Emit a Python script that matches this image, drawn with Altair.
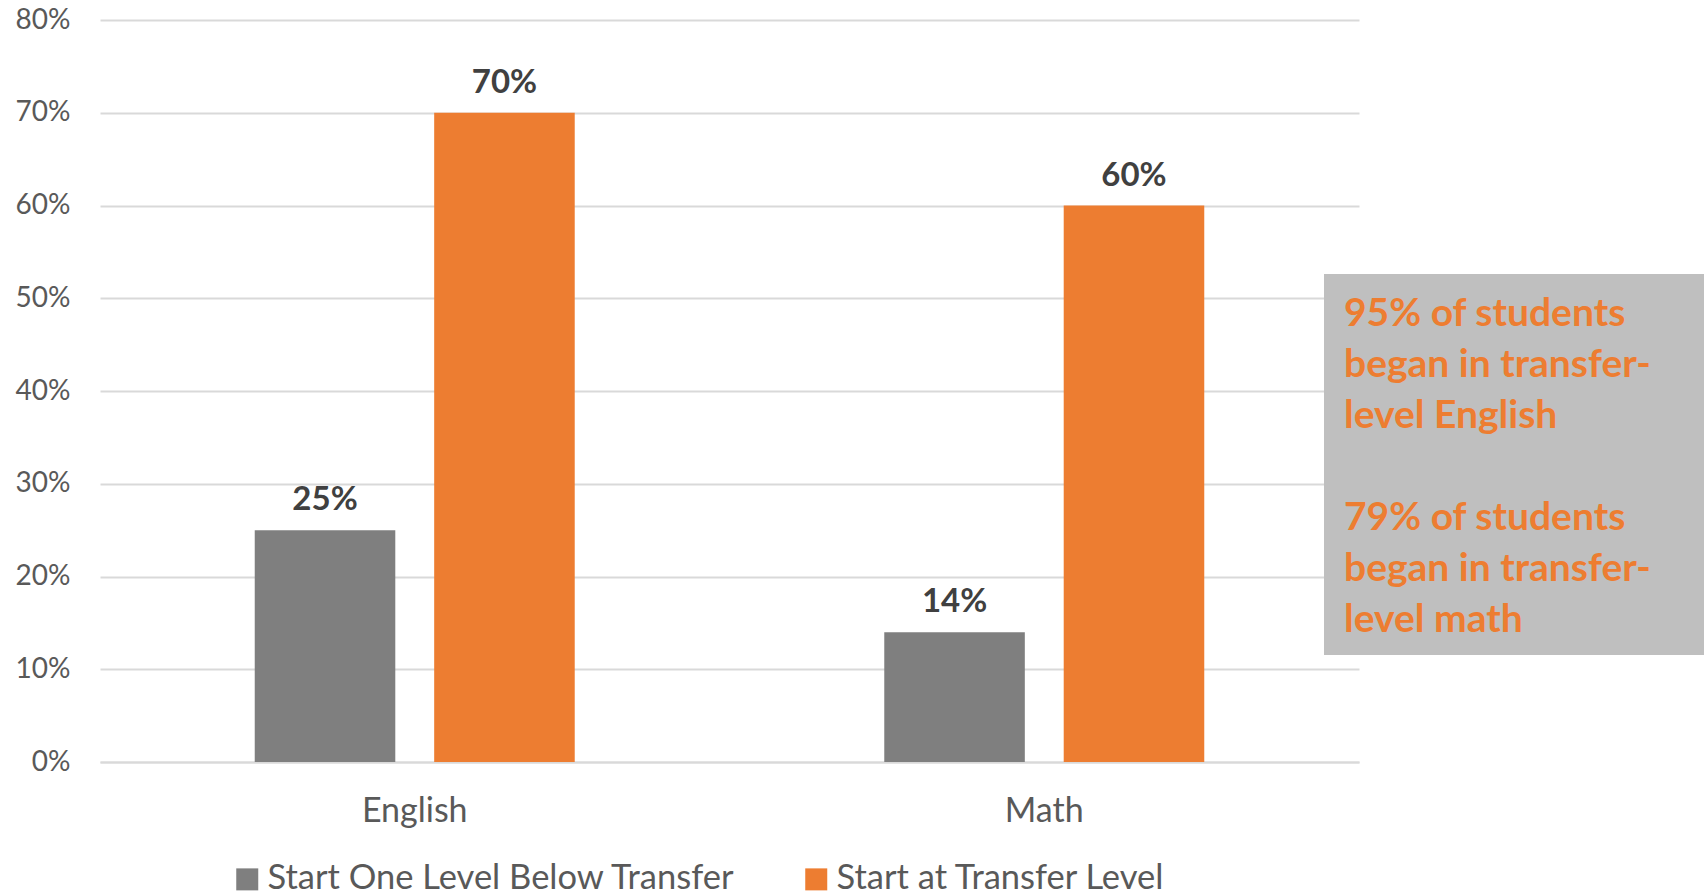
import altair as alt
import pandas as pd

subjects = ["English", "Math"]
series = ["Start One Level Below Transfer", "Start at Transfer Level"]
below_vals = [0.25, 0.14]
transfer_vals = [0.70, 0.60]
colors = ["#7F7F7F", "#ED7D31"]
note_english = ["95% of students", "began in transfer-", "level English"]
note_math = ["79% of students", "began in transfer-", "level math"]

rows = []
for i, s in enumerate(subjects):
    rows.append({"subject": s, "series": series[0], "value": below_vals[i]})
    rows.append({"subject": s, "series": series[1], "value": transfer_vals[i]})
df = pd.DataFrame(rows)

FONT = "Lato"

x_enc = alt.X("subject:N", sort=subjects, title=None,
              scale=alt.Scale(paddingInner=0.4917, paddingOuter=0.2458),
              axis=alt.Axis(labelAngle=0, labelFontSize=34, labelColor="#595959",
                            labelFont=FONT, ticks=False, domainColor="#D9D9D9",
                            domainWidth=2, labelPadding=32))
xoff = alt.XOffset("series:N", sort=series,
                   scale=alt.Scale(paddingInner=0.2167, paddingOuter=0))
y_enc = alt.Y("value:Q", title=None,
              scale=alt.Scale(domain=[0, 0.8], nice=False),
              axis=alt.Axis(format=".0%", values=[0, .1, .2, .3, .4, .5, .6, .7, .8],
                            labelFontSize=28, labelColor="#595959", labelFont=FONT,
                            ticks=False, domain=False, gridColor="#D9D9D9",
                            gridWidth=2, labelPadding=30))

bars = alt.Chart(df).mark_bar().encode(
    x=x_enc, xOffset=xoff, y=y_enc,
    color=alt.Color("series:N", sort=series,
                    scale=alt.Scale(domain=series, range=colors),
                    legend=alt.Legend(title=None, orient="none", legendX=130, legendY=842,
                                      direction="horizontal", symbolType="square",
                                      symbolSize=484, symbolStrokeWidth=0,
                                      labelFontSize=34.5, labelFont=FONT, labelLimit=0,
                                      labelColor="#595959", labelOffset=3,
                                      columnPadding=63)),
)

labels = alt.Chart(df).mark_text(
    font=FONT, fontWeight="bold", fontSize=33, color="#404040",
    baseline="alphabetic", dy=-20
).encode(
    x=alt.X("subject:N", sort=subjects), xOffset=xoff,
    y="value:Q", text=alt.Text("value:Q", format=".0%")
)

box_df = pd.DataFrame({"k": [0]})
box = alt.Chart(box_df).mark_rect(color="#BFBFBF", clip=False).encode(
    x=alt.value(1224), x2=alt.value(1604), y=alt.value(254), y2=alt.value(635)
)
note_style = dict(font=FONT, fontWeight="bold", fontSize=39, color="#ED7D31",
                  align="left", baseline="alphabetic", lineHeight=51)
note1 = alt.Chart(box_df).mark_text(text=note_english, **note_style).encode(
    x=alt.value(1244), y=alt.value(306))
note2 = alt.Chart(box_df).mark_text(text=note_math, **note_style).encode(
    x=alt.value(1244), y=alt.value(510))

chart = alt.layer(bars, labels, box, note1, note2).properties(
    width=1259, height=742,
    autosize=alt.AutoSizeParams(type="none"),
    padding={"left": 100, "top": 20, "right": 345, "bottom": 133},
    background="white",
).configure_view(stroke=None)

chart.save("out.html", embed_options={"renderer": "svg", "actions": False})
